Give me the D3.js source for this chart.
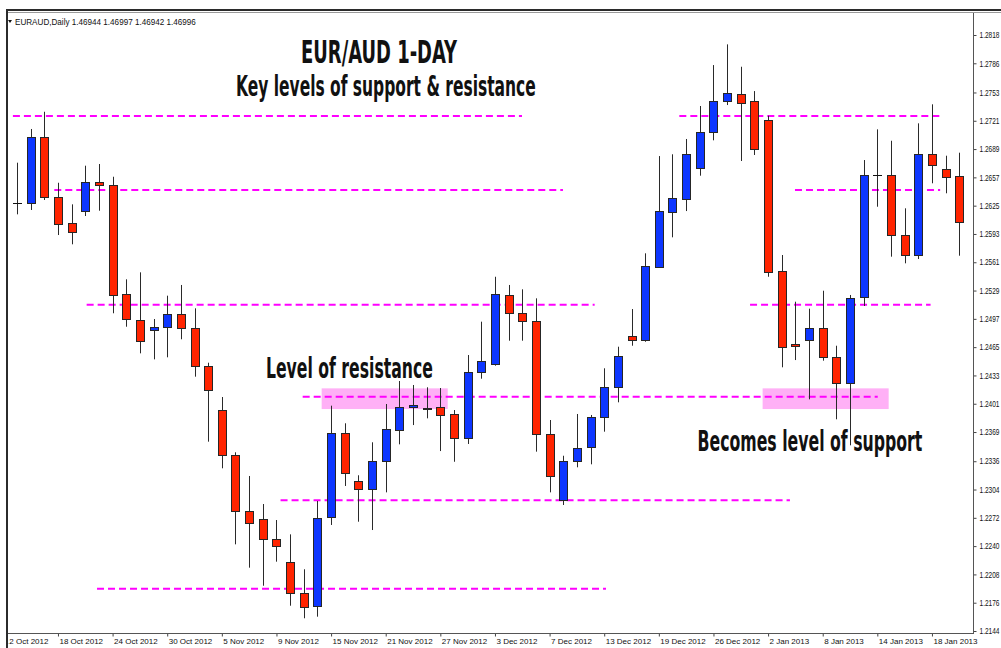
<!DOCTYPE html>
<html>
<head>
<meta charset="utf-8">
<script src="https://cdn.jsdelivr.net/npm/d3@7"></script>
<style>
  html, body { margin: 0; padding: 0; background: #fff; }
  svg { display: block; }
</style>
</head>
<body>
<svg id="chart" width="1001" height="648"></svg>
<script>
// Daily EURAUD sessions, 15 Oct 2012 – 22 Jan 2013
const dates = [
  "15 Oct 2012","16 Oct 2012","17 Oct 2012","18 Oct 2012","19 Oct 2012",
  "22 Oct 2012","23 Oct 2012","24 Oct 2012","25 Oct 2012","26 Oct 2012",
  "29 Oct 2012","30 Oct 2012","31 Oct 2012","1 Nov 2012","2 Nov 2012",
  "5 Nov 2012","6 Nov 2012","7 Nov 2012","8 Nov 2012","9 Nov 2012",
  "12 Nov 2012","13 Nov 2012","14 Nov 2012","15 Nov 2012","16 Nov 2012",
  "19 Nov 2012","20 Nov 2012","21 Nov 2012","22 Nov 2012","23 Nov 2012",
  "26 Nov 2012","27 Nov 2012","28 Nov 2012","29 Nov 2012","30 Nov 2012",
  "3 Dec 2012","4 Dec 2012","5 Dec 2012","6 Dec 2012","7 Dec 2012",
  "10 Dec 2012","11 Dec 2012","12 Dec 2012","13 Dec 2012","14 Dec 2012",
  "17 Dec 2012","18 Dec 2012","19 Dec 2012","20 Dec 2012","21 Dec 2012",
  "24 Dec 2012","26 Dec 2012","27 Dec 2012","28 Dec 2012",
  "31 Dec 2012","2 Jan 2013","3 Jan 2013","4 Jan 2013",
  "7 Jan 2013","8 Jan 2013","9 Jan 2013","10 Jan 2013","11 Jan 2013",
  "14 Jan 2013","15 Jan 2013","16 Jan 2013","17 Jan 2013","18 Jan 2013",
  "21 Jan 2013","22 Jan 2013"
];

const open = [
  1.26277,1.26280,1.27023,1.26348,1.26050, 1.26193,1.26514,1.26483,1.25251,1.24957,
  1.24840,1.24881,1.25028,1.24870,1.24433, 1.23936,1.23430,1.22797,1.22703,1.22477,
  1.22217,1.21866,1.21719,1.22729,1.23682, 1.23140,1.23042,1.23362,1.23709,1.23976,
  1.23947,1.23970,1.23890,1.23626,1.24372, 1.24456,1.25243,1.25036,1.24949,1.23668,
  1.22921,1.23362,1.23517,1.23856,1.24203, 1.24773,1.24731,1.25560,1.26181,1.26329,
  1.26679,1.27079,1.27430,1.27516, 1.27430,1.27215,1.25511,1.24685,
  1.24734,1.24870,1.24538,1.24248,1.25220, 1.26597,1.26600,1.25918,1.25688,1.26834,
  1.26661,1.26582
];
const high = [
  1.26736,1.27117,1.27312,1.26509,1.26265, 1.26702,1.26721,1.26577,1.25417,1.25496,
  1.24968,1.25232,1.25353,1.25089,1.24474, 1.24086,1.23461,1.23193,1.22876,1.22695,
  1.22533,1.22138,1.22910,1.23988,1.23789, 1.23201,1.23574,1.24007,1.24267,1.24222,
  1.24196,1.24188,1.23939,1.24561,1.24938, 1.25446,1.25353,1.25304,1.25202,1.23826,
  1.23422,1.23894,1.23883,1.24411,1.24655, 1.25081,1.25711,1.26811,1.26831,1.27004,
  1.27377,1.27840,1.28074,1.27821, 1.27546,1.27267,1.25692,1.25164,
  1.25085,1.25288,1.24666,1.25240,1.26766, 1.27113,1.26984,1.26220,1.27181,1.27396,
  1.26815,1.26849
];
const low = [
  1.26152,1.26201,1.26314,1.25918,1.25813, 1.26133,1.26193,1.25033,1.24881,1.24580,
  1.24512,1.24535,1.24739,1.24316,1.23581, 1.23280,1.22420,1.22156,1.21952,1.22224,
  1.21726,1.21584,1.21602,1.22639,1.23080, 1.22676,1.22582,1.23008,1.23551,1.23769,
  1.23845,1.23475,1.23354,1.23555,1.24293, 1.24440,1.24723,1.24723,1.23468,1.23008,
  1.22865,1.23291,1.23325,1.23694,1.24026, 1.24666,1.24711,1.25548,1.25892,1.26189,
  1.26589,1.26989,1.27388,1.26755, 1.26823,1.25446,1.24422,1.24504,
  1.24060,1.24497,1.23834,1.23540,1.25115, 1.26238,1.25673,1.25598,1.25647,1.26503,
  1.26390,1.25684
];
const close = [
  1.26277,1.27023,1.26344,1.26039,1.25955, 1.26514,1.26483,1.25240,1.24968,1.24719,
  1.24878,1.25028,1.24870,1.24433,1.24162, 1.23430,1.22797,1.22661,1.22477,1.22398,
  1.21866,1.21708,1.22721,1.23682,1.23230, 1.23046,1.23362,1.23721,1.23976,1.23996,
  1.23965,1.23886,1.23626,1.24372,1.24497, 1.25251,1.25036,1.24949,1.23668,1.23196,
  1.23366,1.23509,1.23860,1.24199,1.24550, 1.24734,1.25564,1.26186,1.26340,1.26834,
  1.27079,1.27430,1.27527,1.27407, 1.26887,1.25503,1.24655,1.24666,
  1.24870,1.24542,1.24248,1.25209,1.26593, 1.26597,1.25918,1.25688,1.26834,1.26706,
  1.26577,1.26065
];

// Price scale labels on the right
const priceTicks = [
  1.2144,1.2176,1.2208,1.2240,1.2272,1.2304,1.2336,1.2369,1.2401,1.2433,1.2465,
  1.2497,1.2529,1.2561,1.2593,1.2625,1.2657,1.2689,1.2721,1.2753,1.2786,1.2818
];

// Time scale labels, one every four sessions (the first one precedes the window)
const timeTicks = [
  "12 Oct 2012","18 Oct 2012","24 Oct 2012","30 Oct 2012","5 Nov 2012","9 Nov 2012",
  "15 Nov 2012","21 Nov 2012","27 Nov 2012","3 Dec 2012","7 Dec 2012","13 Dec 2012",
  "19 Dec 2012","26 Dec 2012","2 Jan 2013","8 Jan 2013","14 Jan 2013","18 Jan 2013"
];

// Horizontal support / resistance levels: price and bar span (session index units)
const levelPrice = [1.27264, 1.26427, 1.25130, 1.24090, 1.22918, 1.21918, 1.27264, 1.26427, 1.25130];
const levelFrom  = [-0.3,    2.73,    5.1,     20.92,   19.3,    5.86,    48.5,    56.97,   53.68];
const levelTo    = [36.98,   39.98,   42.3,    63.03,   56.6,    43.13,   67.7,    67.6,    66.9];

// Highlighted zone where resistance turns into support
const zoneTop = 1.24184, zoneBottom = 1.23950;
const zoneFrom = [22.31, 54.6];
const zoneTo   = [31.54, 63.83];

// ---------------------------------------------------------------------------
const svg = d3.select("#chart");
const plot = { left: 8, right: 973, top: 12, bottom: 633 };

const x = d3.scaleLinear().domain([0, dates.length - 1]).range([17, 17 + 69 * 13.656]);
const y = d3.scaleLinear().domain([1.2144, 1.2818]).range([631, 35]);

const bars = dates.map((d, i) => ({ i, date: d, o: open[i], h: high[i], l: low[i], c: close[i] }));

// squeeze a text horizontally to a given width, keeping its left edge in place
function squeezeTo(sel, width) {
  sel.each(function (d, i) {
    const w = typeof width === "function" ? width(d, i) : width;
    const natural = this.getComputedTextLength();
    const x0 = +(this.getAttribute("x") || 0);
    const s = w / natural;
    this.setAttribute("transform", `translate(${x0},0) scale(${s},1) translate(${-x0},0)`);
  });
}

svg.append("defs").append("clipPath").attr("id", "plotClip")
  .append("rect").attr("x", plot.left).attr("y", plot.top)
  .attr("width", plot.right - plot.left).attr("height", plot.bottom - plot.top);
svg.select("defs").append("clipPath").attr("id", "timeClip")
  .append("rect").attr("x", plot.left + 0.5).attr("y", plot.bottom)
  .attr("width", plot.right - plot.left + 30).attr("height", 20);

const chart = svg.append("g").attr("clip-path", "url(#plotClip)");

// zones
chart.append("g").selectAll("rect").data(zoneFrom).join("rect")
  .attr("x", (d) => x(d))
  .attr("width", (d, i) => x(zoneTo[i]) - x(d))
  .attr("y", y(zoneTop))
  .attr("height", y(zoneBottom) - y(zoneTop))
  .attr("fill", "#ffb0f6");

// levels
chart.append("g").selectAll("line").data(levelPrice).join("line")
  .attr("x1", (d, i) => x(levelFrom[i]))
  .attr("x2", (d, i) => x(levelTo[i]))
  .attr("y1", (d) => y(d))
  .attr("y2", (d) => y(d))
  .attr("stroke", "#ff00ff")
  .attr("stroke-width", 2)
  .attr("stroke-dasharray", "7,4");

// annotations
const annFont = "'Liberation Sans Narrow','DejaVu Sans Condensed','Roboto Condensed','Liberation Sans',Arial,sans-serif";
const notes = [
  { t: "EUR/AUD 1-DAY", cx: 379, base: 63, size: 32, w: 156 },
  { t: "Key levels of support & resistance", cx: 386, base: 96, size: 28, w: 300 },
  { t: "Level of resistance", cx: 349.5, base: 378, size: 28, w: 167 },
  { t: "Becomes level of support", cx: 810, base: 451, size: 29, w: 225 }
];
svg.append("g").selectAll("text").data(notes).join("text")
  .attr("x", (d) => d.cx - d.w / 2)
  .attr("y", (d) => d.base)
  .attr("font-family", annFont)
  .attr("font-size", (d) => d.size)
  .attr("font-weight", "bold")
  .attr("fill", "#111")
  .text((d) => d.t)
  .call(squeezeTo, (d) => d.w);

// candles
const candles = chart.append("g");
const cx = (d) => Math.round(x(d.i));
candles.selectAll("line.wick").data(bars).join("line")
  .attr("class", "wick")
  .attr("x1", (d) => cx(d) + 0.5).attr("x2", (d) => cx(d) + 0.5)
  .attr("y1", (d) => y(d.h)).attr("y2", (d) => y(d.l))
  .attr("stroke", "#2a2a2a").attr("stroke-width", 1);

const bodies = bars.filter((d) => d.o !== d.c);
candles.selectAll("rect.body").data(bodies).join("rect")
  .attr("class", "body")
  .attr("x", (d) => cx(d) - 3.5)
  .attr("width", 8)
  .attr("y", (d) => Math.round(y(Math.max(d.o, d.c))) + 0.5)
  .attr("height", (d) => Math.max(1, Math.round(y(Math.min(d.o, d.c))) - Math.round(y(Math.max(d.o, d.c)))))
  .attr("fill", (d) => (d.c > d.o ? "#0d36ff" : "#ff2400"))
  .attr("stroke", "#262626")
  .attr("stroke-width", 1);

candles.selectAll("line.doji").data(bars.filter((d) => d.o === d.c)).join("line")
  .attr("class", "doji")
  .attr("x1", (d) => cx(d) - 4).attr("x2", (d) => cx(d) + 5)
  .attr("y1", (d) => Math.round(y(d.o)) + 0.5).attr("y2", (d) => Math.round(y(d.o)) + 0.5)
  .attr("stroke", "#111").attr("stroke-width", 1);

// axes
const axisFont = "'Liberation Sans',Arial,sans-serif";

const yAxis = d3.axisRight(y).tickValues(priceTicks).tickSize(3).tickPadding(3)
  .tickFormat(d3.format(".4f"));
const gy = svg.append("g").attr("transform", `translate(${plot.right + 0.5},0)`).call(yAxis);
gy.select(".domain").remove();
gy.selectAll("line").attr("stroke", "#444");
gy.selectAll("text").attr("font-family", axisFont).attr("font-size", 8.5).attr("fill", "#111")
  .call(squeezeTo, 20);

const tickIdx = timeTicks.map((d, k) => 4 * k - 1);
const xAxis = d3.axisBottom(x).tickValues(tickIdx).tickSize(3).tickPadding(2)
  .tickFormat((d, k) => timeTicks[k]);
const gx = svg.append("g").attr("clip-path", "url(#timeClip)")
  .append("g").attr("transform", `translate(0,${plot.bottom + 0.5})`).call(xAxis);
gx.select(".domain").remove();
gx.selectAll("line").attr("stroke", "#444");
gx.selectAll("text").attr("font-family", axisFont).attr("font-size", 8).attr("fill", "#111")
  .attr("text-anchor", "start").attr("dx", 1);

// axis lines
svg.append("line").attr("x1", plot.right + 0.5).attr("x2", plot.right + 0.5)
  .attr("y1", plot.top).attr("y2", plot.bottom + 1).attr("stroke", "#555");
svg.append("line").attr("x1", plot.left).attr("x2", plot.right + 1)
  .attr("y1", plot.bottom + 0.5).attr("y2", plot.bottom + 0.5).attr("stroke", "#555");

// window frame
svg.append("line").attr("x1", 6).attr("x2", 1001).attr("y1", 10).attr("y2", 10)
  .attr("stroke", "#2b2b2b").attr("stroke-width", 2);
svg.append("line").attr("x1", 8).attr("x2", 1001).attr("y1", 12.5).attr("y2", 12.5)
  .attr("stroke", "#9a9a9a").attr("stroke-width", 1);
svg.append("line").attr("x1", 7).attr("x2", 7).attr("y1", 9).attr("y2", 648)
  .attr("stroke", "#2b2b2b").attr("stroke-width", 2);

// symbol header
svg.append("path").attr("d", "M8,20 L12,20 L10,23 Z").attr("fill", "#111");
svg.append("text").attr("x", 15).attr("y", 25)
  .attr("font-family", axisFont).attr("font-size", 9.5).attr("fill", "#111")
  .text("EURAUD,Daily  1.46944 1.46997 1.46942 1.46996")
  .call(squeezeTo, 181);
</script>
</body>
</html>
